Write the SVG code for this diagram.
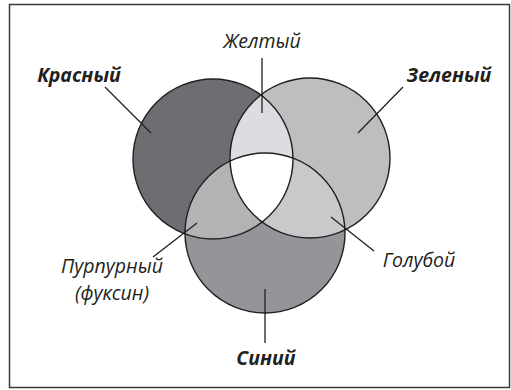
<svg xmlns="http://www.w3.org/2000/svg" width="511" height="390" viewBox="0 0 511 390">
<style>
.lbl{font-family:"Open Sans","Noto Sans","DejaVu Sans",sans-serif;font-style:italic;font-size:19.5px;fill:#231f20}
.b{font-weight:bold}
.ln{stroke:#231f20;stroke-width:1.3;fill:none}
.ol{fill:none;stroke:#231f20;stroke-width:1.4}
</style>
<defs>
<circle id="cL" cx="213" cy="159" r="80"/>
<circle id="cR" cx="310" cy="158" r="80"/>
<circle id="cB" cx="265" cy="233" r="80"/>
<clipPath id="clipL"><use href="#cL"/></clipPath>
<clipPath id="clipR"><use href="#cR"/></clipPath>
<clipPath id="clipB"><use href="#cB"/></clipPath>
</defs>
<rect x="9.5" y="4.5" width="500" height="383" fill="#fff" stroke="#3a3a3a" stroke-width="1.5"/>
<g id="red"><use href="#cL" fill="#6d6e71"/></g>
<g id="green"><use href="#cR" fill="#bcbec0"/></g>
<g id="blue"><use href="#cB" fill="#939598"/></g>
<g id="yellow" clip-path="url(#clipL)"><use href="#cR" fill="#dcdde0"/></g>
<g id="magenta" clip-path="url(#clipL)"><use href="#cB" fill="#b1b3b5"/></g>
<g id="cyan" clip-path="url(#clipR)"><use href="#cB" fill="#c8c9cb"/></g>
<g id="white" clip-path="url(#clipL)"><g clip-path="url(#clipR)"><use href="#cB" fill="#ffffff"/></g></g>
<g id="outlines">
<use href="#cL" class="ol"/>
<use href="#cR" class="ol"/>
<use href="#cB" class="ol"/>
</g>
<g id="connectors">
<line class="ln" x1="262" y1="58" x2="262" y2="113"/>
<line class="ln" x1="105" y1="87" x2="151" y2="133"/>
<line class="ln" x1="403" y1="87" x2="358" y2="133"/>
<line class="ln" x1="153" y1="257" x2="197" y2="223"/>
<line class="ln" x1="374" y1="251" x2="331" y2="217"/>
<line class="ln" x1="265" y1="289" x2="265" y2="343"/>
</g>
<g id="labels">
<text class="lbl" x="262" y="48" text-anchor="middle">Желтый</text>
<text class="lbl b" x="79" y="82" text-anchor="middle">Красный</text>
<text class="lbl b" x="449" y="82" text-anchor="middle">Зеленый</text>
<text class="lbl" x="112" y="273" text-anchor="middle">Пурпурный</text>
<text class="lbl" x="112" y="300" text-anchor="middle">(фуксин)</text>
<text class="lbl" x="419" y="267" text-anchor="middle">Голубой</text>
<text class="lbl b" x="266" y="365" text-anchor="middle">Синий</text>
</g>
</svg>
